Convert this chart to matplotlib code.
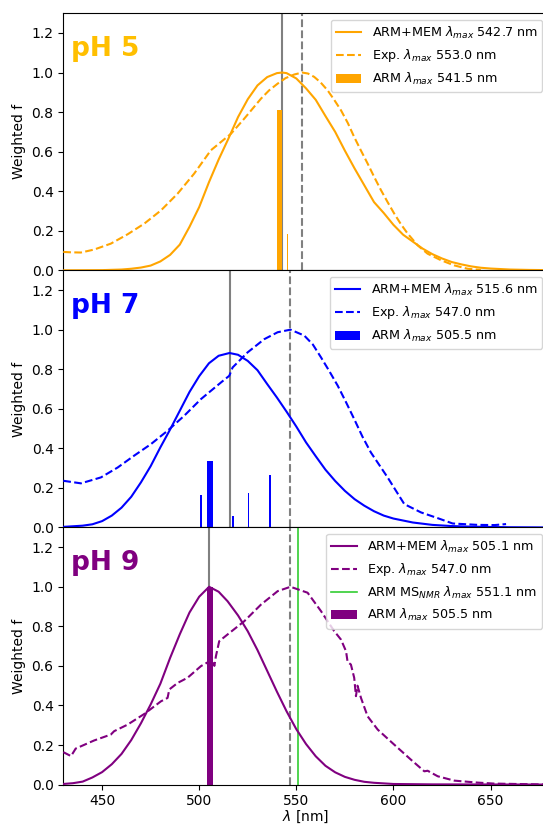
import matplotlib
matplotlib.use("Agg")
import matplotlib.pyplot as plt

# ---------------- data ----------------
# pH 5
ph5_calc_wl = [430, 450, 460, 465, 470, 475, 480, 485, 490, 495, 500, 505, 510, 515, 520,
               525, 530, 535, 540, 542.7, 545, 550, 555, 560, 565, 570, 575, 580, 585,
               590, 595, 600, 605, 610, 615, 620, 625, 630, 635, 640, 645, 650, 660,
               670, 680]
ph5_calc_f = [0.0, 0.001, 0.004, 0.008, 0.014, 0.024, 0.045, 0.078, 0.13, 0.22, 0.32,
              0.445, 0.56, 0.665, 0.775, 0.865, 0.935, 0.977, 0.997, 1.0, 0.997, 0.97,
              0.92, 0.862, 0.78, 0.70, 0.605, 0.515, 0.43, 0.345, 0.29, 0.23, 0.18,
              0.145, 0.11, 0.082, 0.06, 0.042, 0.03, 0.02, 0.013, 0.009, 0.004, 0.002,
              0.001]
ph5_exp_wl = [430.0, 434.0, 439.1, 445.9, 454.5, 463.1, 471.7, 480.3, 488.9, 497.4,
              506.0, 516.3, 523.2, 531.8, 536.0, 540.4, 544.5, 548.9, 553.0, 556.0,
              559.2, 562.5, 566.1, 569.5, 573.0, 576.5, 579.8, 583.2, 586.7, 590.2,
              593.6, 597.0, 600.4, 603.8, 607.3, 612.5, 617.6, 624.5, 631.3, 638.2,
              645.0]
ph5_exp_f = [0.093, 0.091, 0.09, 0.105, 0.135, 0.182, 0.236, 0.303, 0.388, 0.489,
             0.607, 0.69, 0.767, 0.868, 0.91, 0.944, 0.972, 0.99, 1.0, 0.995,
             0.978, 0.95, 0.91, 0.862, 0.809, 0.745, 0.674, 0.607, 0.54, 0.47,
             0.405, 0.345, 0.287, 0.234, 0.186, 0.126, 0.084, 0.051, 0.025, 0.008,
             0.002]
ph5_bar_wl = [541.5, 545.7]
ph5_bar_f = [0.81, 0.186]
ph5_bar_w = [2.7, 0.5]
ph5_calc_max, ph5_exp_max, ph5_arm_max = 542.7, 553.0, 541.5

# pH 7
ph7_calc_wl = [430, 440, 445, 450, 455, 460, 465, 470, 475, 480, 485, 490, 495, 500, 505,
               510, 515.6, 520, 525, 530, 535, 540, 545, 550, 555, 560, 565, 570, 575,
               580, 585, 590, 595, 600, 610, 620, 630, 640, 660, 680]
ph7_calc_f = [0.003, 0.009, 0.016, 0.032, 0.06, 0.1, 0.155, 0.228, 0.31, 0.405, 0.495,
              0.59, 0.685, 0.765, 0.83, 0.868, 0.882, 0.873, 0.842, 0.795, 0.725, 0.657,
              0.585, 0.51, 0.43, 0.36, 0.292, 0.235, 0.185, 0.143, 0.11, 0.082, 0.06,
              0.045, 0.025, 0.013, 0.007, 0.004, 0.001, 0.0]
ph7_exp_wl = [430.0, 439.1, 449.4, 458.0, 466.5, 475.1, 483.7, 492.3, 500.9, 511.2,
              515.5, 517.2, 524.9, 533.5, 540.4, 547.0, 554.1, 558.5, 562.7, 567.0,
              571.3, 575.5, 579.8, 584.0, 588.4, 597.0, 605.6, 614.2, 622.8, 630.5,
              643.3, 652.0, 658.0]
ph7_exp_f = [0.236, 0.223, 0.253, 0.303, 0.363, 0.421, 0.489, 0.565, 0.649, 0.733,
             0.767, 0.809, 0.885, 0.952, 0.987, 1.0, 0.97, 0.925, 0.86, 0.79,
             0.717, 0.635, 0.548, 0.46, 0.379, 0.253, 0.118, 0.076, 0.047, 0.02,
             0.013, 0.012, 0.017]
ph7_bar_wl = [500.9, 505.5, 517.4, 525.3, 536.4]
ph7_bar_f = [0.163, 0.337, 0.057, 0.172, 0.265]
ph7_bar_w = [0.7, 3.1, 1.0, 0.7, 0.8]
ph7_calc_max, ph7_exp_max, ph7_arm_max = 515.6, 547.0, 505.5

# pH 9
ph9_calc_wl = [430, 435, 440, 445, 450, 455, 460, 465, 470, 475, 480, 485, 490, 495, 500,
               505.1, 510, 514.6, 520, 525, 530, 535, 540, 545, 550, 555, 560, 565, 570,
               575, 580, 585, 590, 600, 620, 680]
ph9_calc_f = [0.003, 0.007, 0.015, 0.036, 0.063, 0.103, 0.155, 0.225, 0.31, 0.405, 0.51,
              0.64, 0.76, 0.87, 0.95, 1.0, 0.975, 0.927, 0.855, 0.775, 0.68, 0.575,
              0.47, 0.37, 0.28, 0.205, 0.143, 0.095, 0.062, 0.039, 0.024, 0.014, 0.009,
              0.003, 0.001, 0.0]
ph9_exp_wl = [430.0, 434.0, 436.4, 445.9, 454.5, 456.2, 463.1, 471.7, 480.3, 483.7,
              484.6, 488.9, 494.0, 500.9, 506.9, 507.8, 508.6, 510.3, 514.6, 523.2,
              531.8, 540.4, 547.0, 555.8, 562.7, 569.5, 573.0, 575.6, 576.4, 578.1,
              579.8, 580.7, 581.5, 583.3, 586.7, 591.9, 600.4, 609.0, 615.9, 617.6,
              622.8, 631.3, 643.3, 651.9, 680.0]
ph9_exp_f = [0.164, 0.144, 0.182, 0.223, 0.253, 0.27, 0.303, 0.357, 0.421, 0.438,
             0.481, 0.514, 0.54, 0.599, 0.632, 0.60, 0.649, 0.725, 0.759, 0.826,
             0.91, 0.978, 1.0, 0.97, 0.877, 0.776, 0.733, 0.674, 0.62, 0.607,
             0.54, 0.447, 0.50, 0.438, 0.345, 0.278, 0.202, 0.126, 0.067, 0.07,
             0.042, 0.02, 0.01, 0.005, 0.0]
ph9_bar_wl = [505.5]
ph9_bar_f = [1.0]
ph9_bar_w = [3.1]
ph9_calc_max, ph9_exp_max, ph9_arm_max = 505.1, 547.0, 505.5
ph9_ms_max = 551.1

panels = [
    ("pH 5", "orange", "#FFBF00", ph5_calc_wl, ph5_calc_f, ph5_exp_wl, ph5_exp_f,
     ph5_bar_wl, ph5_bar_f, ph5_bar_w, ph5_calc_max, ph5_exp_max, ph5_arm_max, None),
    ("pH 7", "blue", "blue", ph7_calc_wl, ph7_calc_f, ph7_exp_wl, ph7_exp_f,
     ph7_bar_wl, ph7_bar_f, ph7_bar_w, ph7_calc_max, ph7_exp_max, ph7_arm_max, None),
    ("pH 9", "purple", "purple", ph9_calc_wl, ph9_calc_f, ph9_exp_wl, ph9_exp_f,
     ph9_bar_wl, ph9_bar_f, ph9_bar_w, ph9_calc_max, ph9_exp_max, ph9_arm_max, ph9_ms_max),
]

# ---------------- plot ----------------
fig, axes = plt.subplots(3, 1, figsize=(5.43, 8.25), dpi=100, sharex=True)
fig.subplots_adjust(left=0.1165, right=1.0107, top=0.984, bottom=0.049, hspace=0)

for ax, (name, col, tcol, cwl, cf, ewl, ef, bwl, bf, bw, cmax, emax, amax, msmax) in zip(axes, panels):
    ax.axvline(cmax, color="gray", lw=1.5, zorder=1)
    ax.axvline(emax, color="gray", lw=1.5, ls="--", zorder=1)
    ax.plot(cwl, cf, color=col, lw=1.5, zorder=3,
            label=f"ARM+MEM $\\lambda_{{max}}$ {cmax:.1f} nm")
    ax.plot(ewl, ef, color=col, lw=1.5, ls="--", zorder=3,
            label=f"Exp. $\\lambda_{{max}}$ {emax:.1f} nm")
    if msmax is not None:
        ax.axvline(msmax, color="limegreen", lw=1.2, zorder=2,
                   label=f"ARM MS$_{{NMR}}$ $\\lambda_{{max}}$ {msmax:.1f} nm")
    ax.bar(bwl, bf, width=bw, color=col, lw=0, zorder=2,
           label=f"ARM $\\lambda_{{max}}$ {amax:.1f} nm")
    ax.set_ylim(0, 1.3)
    ax.set_yticks([0.0, 0.2, 0.4, 0.6, 0.8, 1.0, 1.2])
    ax.set_ylabel("Weighted f")
    ax.text(0.015, 0.912, name, transform=ax.transAxes, fontsize=19, fontweight="bold",
            color=tcol, va="top", ha="left")
    ax.legend(loc="upper right", fontsize=9.2, handlelength=2.0)

axes[-1].set_xlim(430, 680)
axes[-1].set_xticks([450, 500, 550, 600, 650])
axes[-1].set_xlabel("$\\lambda$ [nm]", labelpad=0)

fig.savefig("out.png", dpi=100)
